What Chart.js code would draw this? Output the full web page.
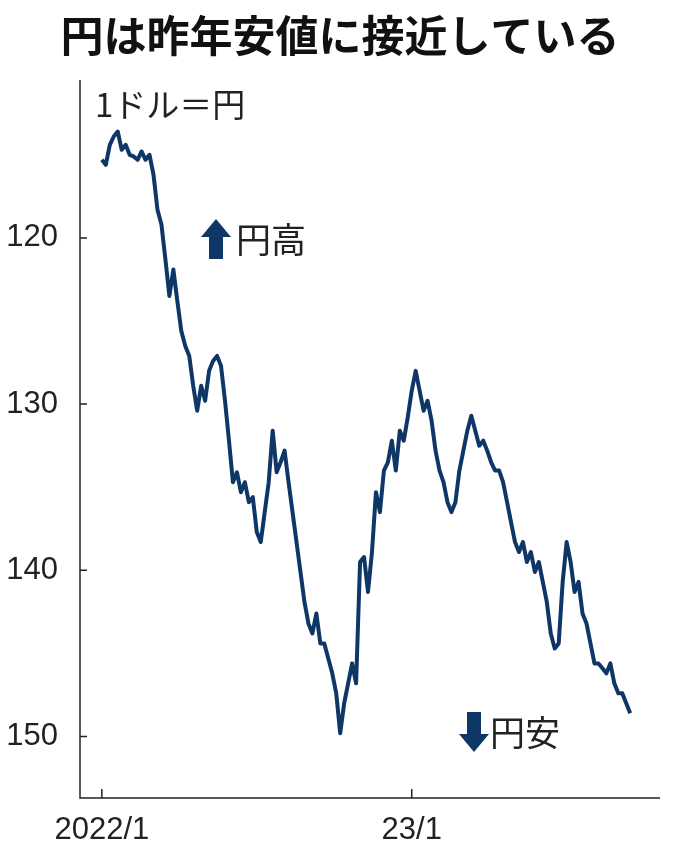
<!DOCTYPE html>
<html><head><meta charset="utf-8">
<script src="https://cdn.jsdelivr.net/npm/chart.js@4"></script>
<style>html,body{margin:0;background:#fff}#wrap{width:680px;height:862px}</style>
</head><body><div id="wrap"><canvas id="c"></canvas></div>
<script>
// 1ドル=円, sampled about every 5 days from 2022/1
const rates = [115.3,115.6,114.4,113.9,113.6,114.7,114.4,115.0,115.1,115.3,114.8,115.3,115.0,116.2,
  118.3,119.2,121.3,123.5,121.9,123.8,125.6,126.5,
  127.1,128.9,130.4,128.9,129.8,128.0,127.4,127.1,127.7,129.8,132.2,134.7,134.1,135.3,134.7,135.9,135.6,137.7,138.3,136.5,134.7,131.6,134.1,133.5,132.8,134.7,136.5,138.3,140.1,141.9,143.2,143.8,142.6,144.4,144.4,145.3,146.2,147.4,149.8,148.0,146.8,145.6,146.8,139.5,139.2,141.3,138.9,135.3,136.5,134.0,133.5,132.2,134.0,131.6,132.2,130.8,129.2,128.0,129.2,130.4,129.8,131.0,132.8,134.0,134.7,135.9,136.5,135.9,134.0,132.8,131.6,130.7,131.6,132.5,132.2,132.8,133.5,134.0,134.0,134.7,135.9,137.1,138.3,138.9,138.3,139.5,138.9,140.1,139.5,140.7,141.9,143.8,144.7,144.4,140.7,138.3,139.5,141.3,140.7,142.6,143.2,144.4,145.6,145.6,145.9,146.2,145.6,146.8,147.4,147.4,148.0,148.6];
const tickIdx = [0, 78];
const tickLabels = ['2022/1', '23/1'];
const yTicks = [120, 130, 140, 150];

const navy = '#0e3768';
const font = '"Liberation Sans Narrow","Liberation Sans",sans-serif';

const deco = {
  id: 'deco',
  afterDraw(chart) {
    const c = chart.ctx, x = chart.scales.x, y = chart.scales.y, a = chart.chartArea;
    c.save();
    c.fillStyle = '#111';
    c.font = 'bold 43px "Noto Sans CJK JP"';
    c.textAlign = 'center'; c.textBaseline = 'middle';
    c.fillText('円は昨年安値に接近している', 340, 36);
    c.font = '33px "Noto Sans CJK JP"';
    c.textAlign = 'left';
    c.fillStyle = '#222';
    c.fillText('1ドル＝円', 95, 104);
    // axes
    c.strokeStyle = '#222'; c.lineWidth = 1.5;
    c.beginPath();
    c.moveTo(a.left, a.top); c.lineTo(a.left, a.bottom); c.lineTo(a.right, a.bottom);
    yTicks.forEach(v => { const p = y.getPixelForValue(v); c.moveTo(a.left, p); c.lineTo(a.left + 7, p); });
    tickIdx.forEach(v => { const p = x.getPixelForValue(v); c.moveTo(p, a.bottom); c.lineTo(p, a.bottom - 9); });
    c.stroke();
    // arrows
    c.fillStyle = navy;
    const arrow = (cx, tip, dir) => {
      c.beginPath();
      c.moveTo(cx, tip); c.lineTo(cx + 15, tip + dir * 18); c.lineTo(cx + 7, tip + dir * 18);
      c.lineTo(cx + 7, tip + dir * 40); c.lineTo(cx - 7, tip + dir * 40); c.lineTo(cx - 7, tip + dir * 18);
      c.lineTo(cx - 15, tip + dir * 18); c.closePath(); c.fill();
    };
    arrow(216, 219, 1);
    arrow(474, 752, -1);
    c.fillStyle = '#222';
    c.font = '35px "Noto Sans CJK JP"';
    c.fillText('円高', 236, 240);
    c.fillText('円安', 490, 733);
    c.restore();
  }
};

new Chart(document.getElementById('c'), {
  type: 'line',
  data: {
    labels: rates.map((_, i) => i),
    datasets: [{ data: rates.map((v, i) => ({ x: i, y: v })), borderColor: navy, borderWidth: 4,
      pointRadius: 0, tension: 0, borderJoinStyle: 'round' }]
  },
  options: {
    responsive: true, maintainAspectRatio: false, animation: false,
    layout: { padding: { top: 80, right: 20, left: 0, bottom: 0 } },
    plugins: { legend: { display: false }, tooltip: { enabled: false } },
    scales: {
      x: {
        type: 'linear', min: -5.5, max: 140.5,
        grid: { display: false }, border: { display: false },
        afterBuildTicks: s => { s.ticks = tickIdx.map(v => ({ value: v })); },
        afterFit: s => { s.height = 64; },
        ticks: { padding: 6, color: '#222', font: { family: font, size: 31 },
          callback: v => tickLabels[tickIdx.indexOf(v)] }
      },
      y: {
        reverse: true, min: 110.5, max: 153.7,
        grid: { display: false }, border: { display: false },
        afterBuildTicks: s => { s.ticks = yTicks.map(v => ({ value: v })); },
        afterFit: s => { s.width = 80; },
        ticks: { padding: 14, color: '#222', font: { family: font, size: 31 } }
      }
    }
  },
  plugins: [deco]
});
</script></body></html>
